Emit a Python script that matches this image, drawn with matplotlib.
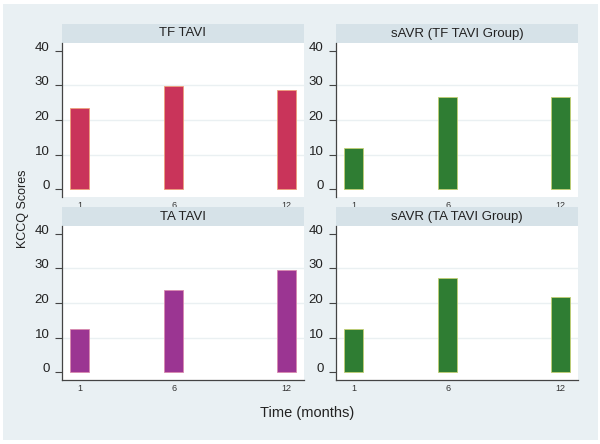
import numpy as np
import matplotlib
matplotlib.use("Agg")
import matplotlib.pyplot as plt
from matplotlib.patches import Rectangle

plt.rcParams['font.family'] = ['Liberation Sans', 'DejaVu Sans']

# data
months = [1, 6, 12]
tf_tavi = [23.6, 29.8, 28.6]
savr_tf = [12.0, 26.8, 26.7]
ta_tavi = [12.4, 23.8, 29.6]
savr_ta = [12.4, 27.3, 21.6]
titles = ["TF TAVI", "sAVR (TF TAVI Group)", "TA TAVI", "sAVR (TA TAVI Group)"]
y_ticks = [0, 10, 20, 30, 40]

bg = '#e9f0f3'
strip = '#d6e2e8'
crimson = '#c9345a'
purple = '#9b3592'
green = '#2f7d33'

W, H = 600, 444
fig = plt.figure(figsize=(W / 100, H / 100), dpi=100, facecolor='white')

# outer light background panel
fig.patches.append(Rectangle((3 / W, 4 / H), 595 / W, 436 / H, transform=fig.transFigure,
                             facecolor=bg, edgecolor='none', zorder=-5))

def px_box(x0, y0, x1, y1):
    return [x0 / W, 1 - y1 / H, (x1 - x0) / W, (y1 - y0) / H]

panels = [
    (tf_tavi, crimson, '#eea07a', 62, 304, 24, 43, 197, False),
    (savr_tf, green, '#c3cf72', 336, 578, 24, 43, 197, False),
    (ta_tavi, purple, '#d98aae', 62, 304, 207, 226, 380, True),
    (savr_ta, green, '#c3cf72', 336, 578, 207, 226, 380, True),
]

for (vals, col, edge, x0, x1, ys, y0, y1, bottom), title in zip(panels, titles):
    # title strip
    sax = fig.add_axes(px_box(x0, ys, x1, y0))
    sax.set_facecolor(strip)
    sax.set_xticks([])
    sax.set_yticks([])
    for s in sax.spines.values():
        s.set_visible(False)
    sax.text(0.5, 0.5, title, ha='center', va='center', fontsize=9.5, color='#222222',
             transform=sax.transAxes)

    ax = fig.add_axes(px_box(x0, y0, x1, y1))
    ax.set_facecolor('white')
    ax.bar(months, vals, width=1.0, color=col, edgecolor=edge, linewidth=0.6, zorder=3)
    ax.set_xlim(0.05, 12.95)
    ax.set_ylim(-2.3, 42.3)
    for g in [10, 20, 30]:
        ax.axhline(g, color='#eaf0f2', linewidth=1.0, zorder=1)
    ax.set_yticks(y_ticks)
    ax.set_yticklabels([str(t) for t in y_ticks], fontsize=9.5, color='#222222')
    # Stata puts the y labels a little above their ticks
    for tk in ax.yaxis.get_major_ticks():
        tk.label1.set_verticalalignment('baseline')
    ax.set_xticks(months)
    ax.set_xticklabels([str(m) for m in months], fontsize=6.5, color='#333333')
    ax.tick_params(axis='y', length=5, width=0.8, color='#444444', pad=4)
    ax.tick_params(axis='x', length=0, pad=3)
    ax.spines['top'].set_visible(False)
    ax.spines['right'].set_visible(False)
    ax.spines['left'].set_color('#444444')
    ax.spines['left'].set_linewidth(0.9)
    if bottom:
        ax.spines['bottom'].set_color('#444444')
        ax.spines['bottom'].set_linewidth(0.9)
    else:
        ax.spines['bottom'].set_visible(False)

fig.text(23 / W, 1 - 209 / H, "KCCQ Scores", rotation=90, ha='center', va='center',
         fontsize=9, color='#222222')
fig.text(307 / W, 1 - 413 / H, "Time (months)", ha='center', va='center',
         fontsize=10.5, color='#222222')

fig.savefig('out.png', dpi=100, facecolor='white')
